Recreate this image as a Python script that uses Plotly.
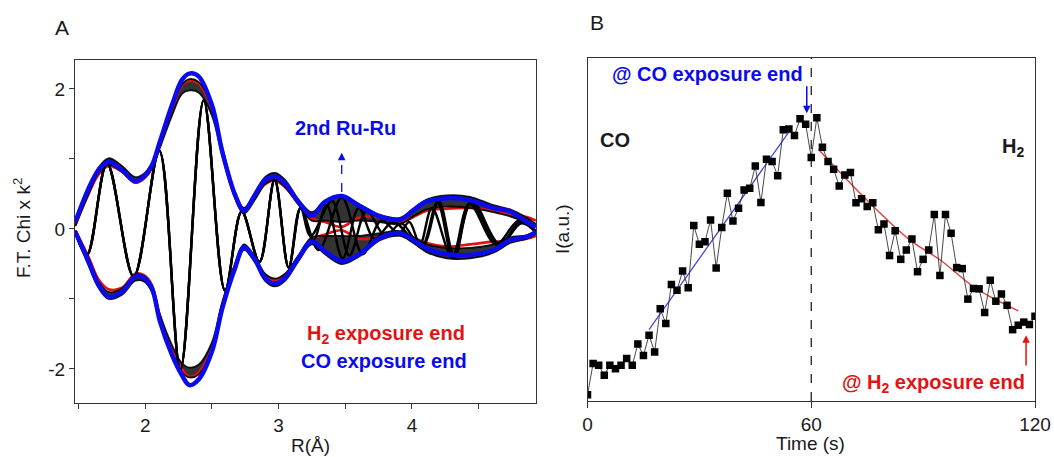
import plotly.graph_objects as go

FONT = "Liberation Sans, Arial, sans-serif"

# ---------------- Panel A: FT-EXAFS, R space ----------------
R_GRID = [1.475, 1.575, 1.65, 1.725, 1.825, 1.925, 1.99, 2.05, 2.11, 2.20, 2.275, 2.33,
          2.40, 2.50, 2.578, 2.673, 2.74, 2.823, 2.898, 2.973, 3.048, 3.148, 3.248, 3.348,
          3.473, 3.598, 3.76, 3.91, 4.01, 4.11, 4.26, 4.435, 4.61, 4.736, 4.86, 4.93]

# CO exposure end (magnitude envelope, + and - side)
BLUE_UP = [0.10, 0.58, 0.84, 0.96, 0.84, 0.68, 0.75, 0.91, 1.25, 1.77, 2.13, 2.22,
           2.18, 1.77, 1.10, 0.49, 0.26, 0.49, 0.70, 0.75, 0.65, 0.39, 0.19, 0.39,
           0.47, 0.34, 0.18, 0.13, 0.27, 0.39, 0.44, 0.41, 0.30, 0.25, 0.10, 0.03]
BLUE_LO = [-0.04, -0.47, -0.80, -0.97, -0.90, -0.68, -0.70, -0.85, -1.32, -1.80, -2.09, -2.23,
           -2.15, -1.75, -1.13, -0.56, -0.26, -0.44, -0.70, -0.78, -0.70, -0.42, -0.18, -0.32,
           -0.46, -0.37, -0.13, -0.06, -0.16, -0.28, -0.36, -0.37, -0.30, -0.16, -0.11, -0.04]

# H2 exposure end
RED_UP = [0.05, 0.50, 0.78, 0.90, 0.82, 0.66, 0.72, 0.87, 1.20, 1.70, 2.05, 2.12,
          2.08, 1.72, 1.10, 0.48, 0.25, 0.45, 0.64, 0.69, 0.60, 0.36, 0.15, 0.10,
          0.03, 0.16, 0.17, 0.10, 0.17, 0.26, 0.29, 0.30, 0.26, 0.22, 0.17, 0.12]
RED_LO = [-0.02, -0.40, -0.72, -0.86, -0.84, -0.64, -0.66, -0.80, -1.25, -1.72, -2.00, -2.11,
          -2.05, -1.70, -1.08, -0.52, -0.25, -0.42, -0.66, -0.73, -0.66, -0.40, -0.15, -0.08,
          -0.02, -0.14, -0.12, -0.05, -0.12, -0.20, -0.25, -0.22, -0.18, -0.17, -0.14, -0.10]

# spread of the intermediate scans (outer / inner bounds of the black bundle)
BLACK_UP_OUT = [0.10, 0.60, 0.88, 1.01, 0.90, 0.74, 0.79, 0.93, 1.24, 1.72, 2.06, 2.14,
                2.10, 1.76, 1.16, 0.52, 0.30, 0.52, 0.74, 0.80, 0.70, 0.42, 0.24, 0.40,
                0.48, 0.36, 0.20, 0.16, 0.29, 0.42, 0.48, 0.46, 0.34, 0.28, 0.16, 0.07]
BLACK_UP_IN = [0.04, 0.50, 0.80, 0.92, 0.82, 0.68, 0.73, 0.86, 1.16, 1.62, 1.93, 1.98,
               1.95, 1.62, 1.04, 0.44, 0.22, 0.42, 0.64, 0.70, 0.60, 0.35, 0.12, 0.12,
               0.10, 0.12, 0.10, 0.07, 0.18, 0.28, 0.32, 0.30, 0.24, 0.18, 0.09, 0.04]
BLACK_LO_OUT = [-0.06, -0.52, -0.84, -1.00, -0.94, -0.74, -0.75, -0.90, -1.30, -1.78, -2.05, -2.12,
                -2.08, -1.74, -1.14, -0.58, -0.30, -0.48, -0.74, -0.82, -0.74, -0.46, -0.22, -0.36,
                -0.50, -0.40, -0.16, -0.10, -0.20, -0.33, -0.42, -0.42, -0.34, -0.20, -0.14, -0.07]
BLACK_LO_IN = [-0.02, -0.42, -0.75, -0.90, -0.85, -0.65, -0.67, -0.82, -1.22, -1.66, -1.92, -1.98,
               -1.94, -1.62, -1.04, -0.50, -0.22, -0.40, -0.64, -0.71, -0.64, -0.38, -0.12, -0.10,
               -0.10, -0.10, -0.06, -0.03, -0.12, -0.22, -0.27, -0.27, -0.22, -0.12, -0.09, -0.03]

# imaginary part: turning points, common part and three scan-dependent tails
IM_HEAD_R = [1.475, 1.563, 1.713, 1.913, 2.105, 2.263, 2.438, 2.598, 2.723, 2.856, 2.970, 3.075, 3.165]
IM_HEAD_V = [-0.04, -0.37, 0.94, -0.68, 1.12, -2.01, 1.84, -0.88, 0.25, -0.47, 0.70, -0.55, 0.30]
IM_TAIL_A_R = [3.26, 3.36, 3.48, 3.60, 3.72, 3.86, 4.075, 4.20, 4.32, 4.44, 4.65, 4.81, 4.93]
IM_TAIL_A_V = [-0.16, 0.34, -0.42, 0.30, -0.14, 0.10, -0.25, 0.40, -0.40, 0.38, -0.24, 0.10, -0.05]
IM_TAIL_B_R = [3.30, 3.475, 3.63, 3.77, 3.90, 3.98, 4.06, 4.15, 4.30, 4.43, 4.63, 4.80, 4.93]
IM_TAIL_B_V = [-0.30, 0.45, -0.36, 0.12, -0.06, 0.10, -0.22, 0.30, -0.40, 0.36, -0.22, 0.12, -0.03]
IM_TAIL_C_R = [3.24, 3.40, 3.53, 3.66, 3.80, 3.92, 4.07, 4.19, 4.31, 4.45, 4.66, 4.82, 4.93]
IM_TAIL_C_V = [-0.10, 0.40, -0.38, 0.26, -0.10, 0.08, -0.26, 0.38, -0.42, 0.40, -0.22, 0.08, -0.04]

# ---------------- Panel B: intensity vs time ----------------
TIME_S = [0, 1.5, 3, 4.5, 6, 7.5, 9, 10.5, 12, 13.5, 15, 16.5, 18, 19.5, 21, 22.5, 24, 25.5,
          27, 28.5, 30, 31.5, 33, 34.5, 36, 37.5, 39, 40.5, 42, 43.5, 45, 46.5, 48, 49.5, 51,
          52.5, 54, 55.5, 57, 58.5, 60, 61.5, 63, 64.5, 66, 67.5, 69, 70.5, 72, 73.5, 75, 76.5,
          78, 79.5, 81, 82.5, 84, 85.5, 87, 88.5, 90, 91.5, 93, 94.5, 96, 97.5, 99, 100.5, 102,
          103.5, 105, 106.5, 108, 109.5, 111, 112.5, 114, 115.5, 117, 118.5, 120]
INTENSITY = [1.85, 10.9, 10.4, 7.5, 10.4, 9.4, 10.4, 12.4, 10.4, 16.6,
             13.3, 19.2, 14.3, 26.9, 22.6, 34.0, 32.3, 37.9, 33.0, 51.2,
             45.7, 46.4, 52.8, 38.8, 50.6, 60.6, 52.5, 56.2, 61.5, 62.0,
             68.5, 57.9, 70.5, 69.8, 65.7, 79.1, 79.3, 77.4, 82.3, 80.7,
             71.0, 82.6, 74.0, 69.8, 67.6, 62.7, 65.9, 66.6, 57.8, 59.0,
             56.7, 57.8, 49.9, 51.6, 42.4, 49.6, 41.3, 44.0, 47.2, 37.7,
             41.3, 44.0, 54.4, 36.6, 54.4, 48.9, 38.9, 38.6, 29.7, 32.8,
             32.7, 25.8, 35.2, 29.1, 31.2, 27.9, 20.8, 22.1, 23.0, 22.3, 24.7]
CO_FIT_T = [16.5, 54.1]
CO_FIT_I = [20.8, 78.6]
H2_FIT_T = [61.9, 74.9, 86.5, 94.6, 103.5, 108.8, 115.5]
H2_FIT_I = [73.4, 58.6, 46.9, 41.1, 33.3, 29.9, 26.3]
CO_END_T = 60

BLUE = "#0a0aee"
RED = "#e41212"
AXC = "#333333"

fig = go.Figure()


def line(x, y, color, width, xa="x", ya="y", shape="spline", dash=None, **kw):
    fig.add_trace(go.Scatter(x=x, y=y, mode="lines", xaxis=xa, yaxis=ya, hoverinfo="skip",
                             line=dict(color=color, width=width, shape=shape, dash=dash,
                                       smoothing=1.0 if shape == "spline" else None), **kw))


# black bundle of intermediate scans
for inner, outer in ((BLACK_UP_IN, BLACK_UP_OUT), (BLACK_LO_IN, BLACK_LO_OUT)):
    line(R_GRID, inner, "rgba(0,0,0,0)", 0)
    line(R_GRID, outer, "rgba(0,0,0,0)", 0, fill="tonexty", fillcolor="rgba(0,0,0,0.8)")

line(R_GRID, RED_UP, RED, 2.6)
line(R_GRID, RED_LO, RED, 2.6)

for arr in (BLACK_UP_OUT, BLACK_UP_IN, BLACK_LO_OUT, BLACK_LO_IN):
    line(R_GRID, arr, "rgba(0,0,0,0.9)", 1.8)

for tr, tv in ((IM_TAIL_A_R, IM_TAIL_A_V), (IM_TAIL_B_R, IM_TAIL_B_V), (IM_TAIL_C_R, IM_TAIL_C_V)):
    line(IM_HEAD_R + tr, IM_HEAD_V + tv, "black", 2.4)

line(R_GRID, BLUE_UP, BLUE, 4.5)
line(R_GRID, BLUE_LO, BLUE, 4.5)

# dashed marker for the 2nd Ru-Ru shell
RU2_R = 3.473
line([RU2_R, RU2_R], [0.53, 1.02], BLUE, 1.3, shape="linear", dash="dash")

# ---- panel B traces ----
line([CO_END_T, CO_END_T], [0, 100], "#222222", 1.3, xa="x2", ya="y2", shape="linear", dash="dash")
line(CO_FIT_T, CO_FIT_I, "#3b3bdc", 1.2, xa="x2", ya="y2", shape="linear")
line(H2_FIT_T, H2_FIT_I, "#e23a3a", 1.3, xa="x2", ya="y2")
fig.add_trace(go.Scatter(x=TIME_S, y=INTENSITY, mode="lines+markers", xaxis="x2", yaxis="y2",
                         hoverinfo="skip",
                         line=dict(color="#333333", width=0.9),
                         marker=dict(symbol="square", size=7.5, color="black")))

W, H = 1054, 457
tickfont = dict(family=FONT, size=19, color="#1a1a1a")
axis_common = dict(showline=True, mirror=True, linecolor=AXC, linewidth=1.3, showgrid=False,
                   zeroline=False, ticks="outside", ticklen=5, tickwidth=1.2, tickcolor=AXC,
                   tickfont=tickfont, automargin=False)

fig.update_layout(
    width=W, height=H, autosize=False, margin=dict(l=0, r=0, t=0, b=0, pad=0),
    paper_bgcolor="white", plot_bgcolor="white", showlegend=False,
    font=dict(family=FONT, color="#1a1a1a"),
    xaxis=dict(domain=[75 / W, 536 / W], range=[1.473, 4.93], anchor="y",
               tickmode="array", tickvals=[2, 3, 4], ticktext=["2", "3", "4"],
               minor=dict(tickvals=[1.5, 2.5, 3.5, 4.5], ticks="outside", ticklen=5,
                          tickwidth=1.2, tickcolor=AXC),
               **axis_common),
    yaxis=dict(domain=[1 - 403 / H, 1 - 60 / H], range=[-2.486, 2.414], anchor="x",
               tickmode="array", tickvals=[-2, 0, 2], ticktext=["-2", "0", "2"],
               minor=dict(tickvals=[-1, 1], ticks="outside", ticklen=5,
                          tickwidth=1.2, tickcolor=AXC),
               **axis_common),
    xaxis2=dict(domain=[587.5 / W, 1035 / W], range=[0, 120], anchor="y2",
                tickmode="array", tickvals=[0, 60, 120], ticktext=["0", "60", "120"],
                **{**axis_common, "ticklen": 6}),
    yaxis2=dict(domain=[1 - 401 / H, 1 - 58 / H], range=[0, 100], anchor="x2",
                **{**axis_common, "ticks": "", "showticklabels": False}),
)

ann = []


def text(s, x, y, xref="paper", yref="paper", size=19, color="#1a1a1a", xanchor="center",
         yanchor="middle", angle=0):
    ann.append(dict(text=s, x=x, y=y, xref=xref, yref=yref, showarrow=False, textangle=angle,
                    xanchor=xanchor, yanchor=yanchor, font=dict(family=FONT, size=size, color=color)))


def arrow(x, y, ax, ay, xref, yref, color):
    ann.append(dict(text="", x=x, y=y, ax=ax, ay=ay, xref=xref, yref=yref, axref=xref, ayref=yref,
                    showarrow=True, arrowhead=2, arrowsize=1, arrowwidth=1.5, arrowcolor=color))


# panel letters and axis titles
text("A", 62 / W, 1 - 27 / H, size=21)
text("B", 597 / W, 1 - 22 / H, size=21)
text("R(Å)", 310 / W, 1 - 445 / H)
text("Time (s)", 810 / W, 1 - 443 / H)
text("F.T. Chi x k<sup>2</sup>", 22 / W, 1 - 228 / H, angle=-90)
text("I(a.u.)", 562 / W, 1 - 229 / H, angle=-90)

# panel A labels
text("<b>2nd Ru-Ru</b>", 3.50, 1.44, "x", "y", size=20, color=BLUE)
arrow(RU2_R, 1.09, RU2_R, 1.0, "x", "y", BLUE)
text("<b>H<sub>2</sub> exposure end</b>", 3.20, -1.51, "x", "y", size=20, color=RED, xanchor="left")
text("<b>CO exposure end</b>", 3.15, -1.88, "x", "y", size=20, color=BLUE, xanchor="left")

# panel B labels
text("<b>@ CO exposure end</b>", 58.3, 95.3, "x2", "y2", size=20, color=BLUE, xanchor="right")
arrow(58.8, 83.9, 58.8, 92.2, "x2", "y2", BLUE)
text("<b>CO</b>", 2.9, 76.1, "x2", "y2", size=20, xanchor="left")
text("<b>H<sub>2</sub></b>", 110.6, 74.0, "x2", "y2", size=20, xanchor="left")
text("<b>@ H<sub>2</sub> exposure end</b>", 117.8, 5.2, "x2", "y2", size=20, color=RED, xanchor="right")
arrow(117.6, 19.2, 117.6, 9.9, "x2", "y2", RED)

fig.update_layout(annotations=ann)
fig.write_html("out.html")
